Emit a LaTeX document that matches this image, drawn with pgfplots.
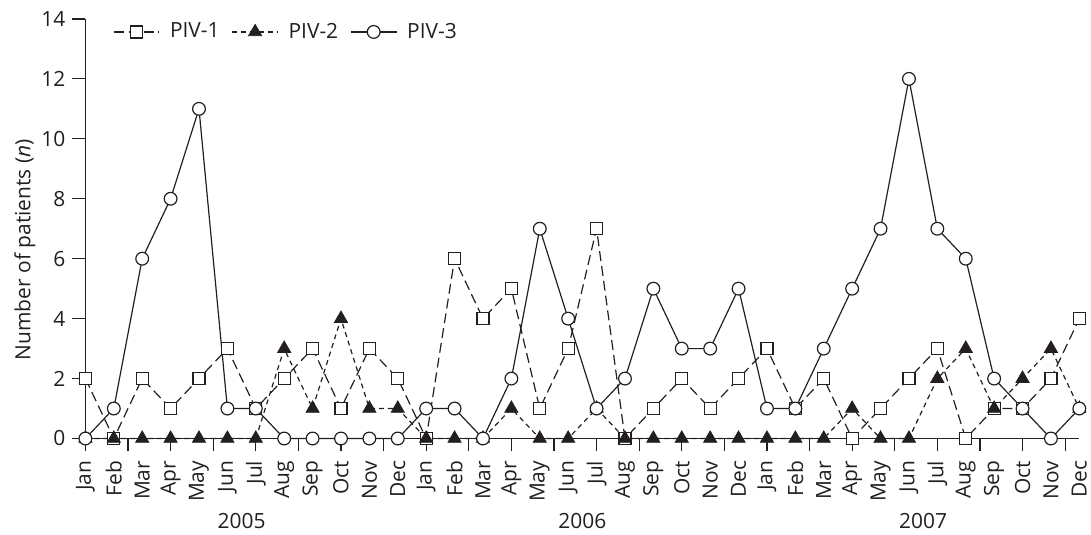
\documentclass[border=0pt]{standalone}
\usepackage{fontspec}
\setmainfont{Open Sans}
\usepackage{pgfplots}
\usepackage{pgfplotstable}
\pgfplotsset{compat=1.18}

% month index: 0 = Jan 2005 ... 35 = Dec 2007
\pgfplotstableread{
m  p1 p2 p3
0  2  0  0
1  0  0  1
2  2  0  6
3  1  0  8
4  2  0  11
5  3  0  1
6  1  0  1
7  2  3  0
8  3  1  0
9  1  4  0
10 3  1  0
11 2  1  0
12 0  0  1
13 6  0  1
14 4  0  0
15 5  1  2
16 1  0  7
17 3  0  4
18 7  1  1
19 0  0  2
20 1  0  5
21 2  0  3
22 1  0  3
23 2  0  5
24 3  0  1
25 1  0  1
26 2  0  3
27 0  1  5
28 1  0  7
29 2  0  12
30 3  2  7
31 0  3  6
32 1  1  2
33 1  2  1
34 2  3  0
35 4  1  1
}\piv

\definecolor{ink}{HTML}{231F20}

\begin{document}
\begin{tikzpicture}
\useasboundingbox (-42.85pt,-48pt) rectangle (504.5pt,220pt);
\begin{axis}[
    scale only axis,
    width=498.65pt, height=210.5pt,
    xmin=0, xmax=35, ymin=0, ymax=14,
    axis lines*=left,
    clip=false,
    axis line style={ink, line width=0.6pt},
    every tick/.style={ink, line width=0.6pt},
    tick align=outside,
    major tick length=6.5pt,
    ytick={0,2,...,14},
    xtick={0,1.5,...,34.5},
    xticklabels={},
    extra x ticks={0,1,...,35},
    extra x tick labels={Jan,Feb,Mar,Apr,May,Jun,Jul,Aug,Sep,Oct,Nov,Dec,
                         Jan,Feb,Mar,Apr,May,Jun,Jul,Aug,Sep,Oct,Nov,Dec,
                         Jan,Feb,Mar,Apr,May,Jun,Jul,Aug,Sep,Oct,Nov,Dec},
    extra x tick style={major tick length=0pt},
    xticklabel style={rotate=90, anchor=east, inner sep=0pt},
    xticklabel shift=11pt,
    /pgf/number format/assume math mode=true,
    tick label style={font=\fontsize{10.5}{12}\selectfont, ink},
    ylabel={Number of patients (\textit{n})},
    ylabel style={at={(axis description cs:-0.061,0.45)}, anchor=center,
                  font=\fontsize{10.5}{12}\selectfont, ink},
    legend columns=3,
    legend cell align=left,
    legend style={at={(axis description cs:0.0274,0.969)}, anchor=west,
                  draw=none, fill=none, inner sep=0pt,
                  nodes={inner sep=2pt},
                  font=\fontsize{10.5}{12}\selectfont, text=ink,
                  /tikz/every odd column/.append style={column sep=3pt},
                  /tikz/every even column/.append style={column sep=4pt}},
    every axis plot/.append style={
        legend image code/.code={
            \draw[mark repeat=2,mark phase=2]
            plot coordinates {(0pt,0pt) (11.5pt,0pt) (23pt,0pt)};
        }
    },
]
\addplot[ink, line width=0.6pt, dash pattern=on 5pt off 2.5pt,
         mark=square*, mark size=3pt,
         mark options={solid, fill=white, draw=ink, line width=0.6pt}]
    table[x=m, y=p1] {\piv};
\addlegendentry{PIV-1}
\addplot[ink, line width=0.6pt, dash pattern=on 2.5pt off 2pt,
         mark=triangle*, mark size=3.8pt,
         mark options={solid, fill=ink, draw=ink, line width=0.4pt}]
    table[x=m, y=p2] {\piv};
\addlegendentry{PIV-2}
\addplot[ink, line width=0.6pt,
         mark=*, mark size=3.2pt,
         mark options={solid, fill=white, draw=ink, line width=0.6pt}]
    table[x=m, y=p3] {\piv};
\addlegendentry{PIV-3}

\node[font=\fontsize{10.5}{12}\selectfont, text=ink] at (axis cs:5.5,0) [yshift=-41.5pt] {2005};
\node[font=\fontsize{10.5}{12}\selectfont, text=ink] at (axis cs:17.5,0) [yshift=-41.5pt] {2006};
\node[font=\fontsize{10.5}{12}\selectfont, text=ink] at (axis cs:29.5,0) [yshift=-41.5pt] {2007};
\end{axis}
\end{tikzpicture}
\end{document}
